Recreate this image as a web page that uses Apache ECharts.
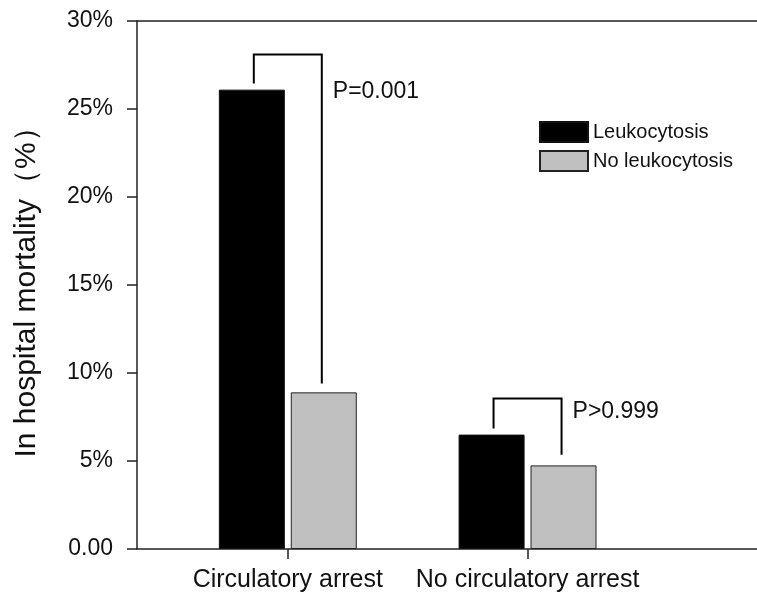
<!DOCTYPE html>
<html>
<head>
<meta charset="utf-8">
<script src="https://cdn.jsdelivr.net/npm/echarts@6/dist/echarts.min.js"></script>
<style>
  html, body { margin: 0; padding: 0; background: #fff; }
  #chart { width: 757px; height: 602px; }
</style>
</head>
<body>
<div id="chart"></div>
<script>
const groups = ['Circulatory arrest', 'No circulatory arrest']
const seriesNames = ['Leukocytosis', 'No leukocytosis']
const leukocytosis = [26.1, 6.5]
const noLeukocytosis = [8.9, 4.75]
const yTickLabels = ['0.00', '5%', '10%', '15%', '20%', '25%', '30%']

// significance brackets: bracket top, end of left leg, end of right leg
const bracketTop = [28.1, 8.55]
const bracketLeft = [26.45, 6.85]
const bracketRight = [9.4, 5.35]
const pLabels = ['P=0.001', 'P>0.999']
const pLabelY = [26.0, 7.8]

const FONT = "'Liberation Sans', Arial, sans-serif"
const BAR_WIDTH = 66
const LEG_OFFSET = 34

const chart = echarts.init(document.getElementById('chart'))

// groups sit at x = 1, 2 on a value axis so the frame can run past them
const groupPos = groups.map((g, i) => i + 1)

const option = {
  animation: false,
  backgroundColor: '#fff',
  grid: { left: 137, right: 0, top: 21, bottom: 53 },
  legend: {
    data: seriesNames,
    orient: 'vertical',
    left: 534,
    top: 116,
    itemWidth: 48,
    itemHeight: 20,
    itemGap: 7,
    icon: 'rect',
    textStyle: { fontFamily: FONT, fontSize: 20, color: '#111' }
  },
  xAxis: [
    {
      type: 'value',
      min: 0.371,
      max: 2.957,
      splitLine: { show: false },
      axisLine: { lineStyle: { color: '#222', width: 1.5 } },
      axisTick: { show: true, length: 10, customValues: groupPos, lineStyle: { color: '#222', width: 1.5 } },
      axisLabel: {
        customValues: groupPos,
        margin: 19,
        fontFamily: FONT,
        fontSize: 25,
        color: '#111',
        formatter: (v) => groups[Math.round(v) - 1] || ''
      }
    },
    {
      type: 'value',
      position: 'top',
      min: 0.371,
      max: 2.957,
      splitLine: { show: false },
      axisLine: { lineStyle: { color: '#222', width: 1.5 } },
      axisTick: { show: false },
      axisLabel: { show: false }
    }
  ],
  yAxis: {
    type: 'value',
    min: 0,
    max: 30,
    interval: 5,
    name: 'In hospital mortality（%）',
    nameLocation: 'middle',
    nameGap: 95,
    nameTextStyle: { fontFamily: FONT, fontSize: 30, color: '#111' },
    splitLine: { show: false },
    axisLine: { show: true, lineStyle: { color: '#222', width: 1.5 } },
    axisTick: { show: true, length: 10, lineStyle: { color: '#222', width: 1.5 } },
    axisLabel: {
      margin: 24,
      fontFamily: FONT,
      fontSize: 23,
      color: '#111',
      formatter: (v) => yTickLabels[Math.round(v / 5)]
    }
  },
  series: [
    {
      name: seriesNames[0],
      type: 'bar',
      barWidth: BAR_WIDTH,
      barGap: '9%',
      itemStyle: { color: '#000', borderColor: '#111', borderWidth: 1 },
      data: groupPos.map((x, i) => [x, leukocytosis[i]])
    },
    {
      name: seriesNames[1],
      type: 'bar',
      barWidth: BAR_WIDTH,
      barGap: '9%',
      itemStyle: { color: '#c0c0c0', borderColor: '#222', borderWidth: 1 },
      data: groupPos.map((x, i) => [x, noLeukocytosis[i]])
    },
    {
      type: 'custom',
      silent: true,
      clip: false,
      data: groupPos.map((x, i) => [x, bracketTop[i], bracketLeft[i], bracketRight[i], pLabelY[i]]),
      renderItem: (params, api) => {
        const i = params.dataIndex
        const x = api.value(0)
        const top = api.coord([x, api.value(1)])
        const leftEnd = api.coord([x, api.value(2)])
        const rightEnd = api.coord([x, api.value(3)])
        const labelPt = api.coord([x, api.value(4)])
        const lx = top[0] - LEG_OFFSET
        const rx = top[0] + LEG_OFFSET
        return {
          type: 'group',
          children: [
            {
              type: 'polyline',
              shape: { points: [[lx, leftEnd[1]], [lx, top[1]], [rx, top[1]], [rx, rightEnd[1]]] },
              style: { stroke: '#000', lineWidth: 2, fill: null }
            },
            {
              type: 'text',
              x: rx + 11,
              y: labelPt[1],
              style: {
                text: pLabels[i],
                fill: '#111',
                font: '23px ' + FONT,
                verticalAlign: 'middle',
                align: 'left'
              }
            }
          ]
        }
      }
    }
  ]
}

chart.setOption(option)
</script>
</body>
</html>
